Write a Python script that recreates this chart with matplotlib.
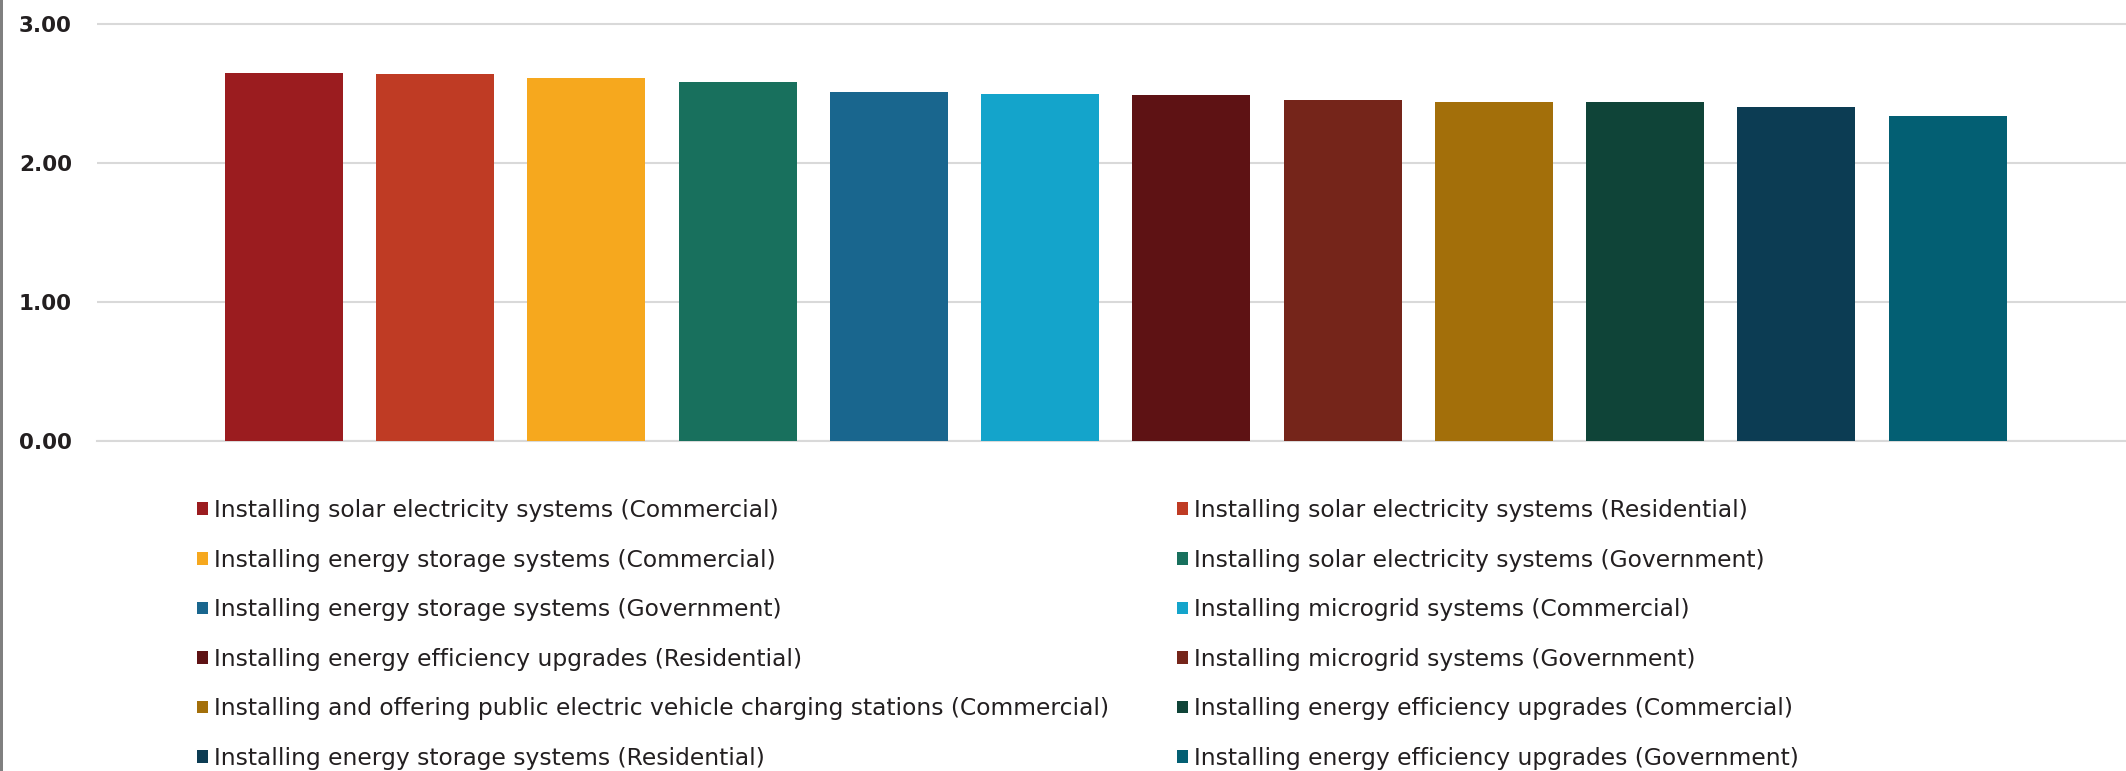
import numpy as np
import matplotlib.pyplot as plt
from matplotlib.patches import Patch, Rectangle

# Дані
labels = [
    "Installing solar electricity systems (Commercial)",
    "Installing solar electricity systems (Residential)",
    "Installing energy storage systems (Commercial)",
    "Installing solar electricity systems (Government)",
    "Installing energy storage systems (Government)",
    "Installing microgrid systems (Commercial)",
    "Installing energy efficiency upgrades (Residential)",
    "Installing microgrid systems (Government)",
    "Installing and offering public electric vehicle charging stations (Commercial)",
    "Installing energy efficiency upgrades (Commercial)",
    "Installing energy storage systems (Residential)",
    "Installing energy efficiency upgrades (Government)",
]
values = [2.65, 2.64, 2.61, 2.58, 2.51, 2.50, 2.49, 2.45, 2.44, 2.44, 2.40, 2.34]
colors = ["#9b1c1f", "#bf3b24", "#f6a81e", "#18705d", "#19668e", "#14a4cb",
          "#5e1214", "#75251a", "#a36f0a", "#0f4438", "#0c3c53", "#035f73"]
yticks = [0, 1, 2, 3]

text_color = "#231f20"
grid_color = "#d9d9d9"

fig = plt.figure(figsize=(21.26, 7.71), dpi=100)
ax = fig.add_axes([97 / 2126, 1 - 441 / 771, 1 - 97 / 2126, (3.05 * 139) / 771])

x = np.arange(len(values))
ax.bar(x, values, width=0.78, color=colors, zorder=3)

ax.set_xlim(-1.236, 12.18)
ax.set_ylim(0, 3.05)
ax.set_yticks(yticks)
ax.set_yticklabels([f"{v:.2f}" for v in yticks], fontfamily="DejaVu Sans",
                   fontweight="bold", fontsize=15.5, color=text_color)
ax.tick_params(axis="y", length=0, pad=18)
ax.set_xticks([])
ax.grid(axis="y", color=grid_color, linewidth=1.5, zorder=0)
for side in ["top", "right", "left"]:
    ax.spines[side].set_visible(False)
ax.spines["bottom"].set_color(grid_color)
ax.spines["bottom"].set_linewidth(1.5)

# Легенда у два стовпці (по рядках)
handles = [Patch(facecolor=c, edgecolor="none") for c in colors]
leg_kw = dict(loc="upper left", frameon=False, borderpad=0, borderaxespad=0,
              handlelength=0.45, handleheight=0.45, handletextpad=0.3,
              labelspacing=1.14, bbox_transform=fig.transFigure,
              prop={"family": "DejaVu Sans", "size": 16.8})
leg1 = fig.legend(handles[0::2], labels[0::2], bbox_to_anchor=(197 / 2126, 1 - 499 / 771), **leg_kw)
leg2 = fig.legend(handles[1::2], labels[1::2], bbox_to_anchor=(1177 / 2126, 1 - 499 / 771), **leg_kw)
for leg in (leg1, leg2):
    for t in leg.get_texts():
        t.set_color(text_color)

# Сіра рамка зліва
fig.add_artist(Rectangle((0, 0), 3 / 2126, 1, transform=fig.transFigure,
                         facecolor="#808080", edgecolor="none"))

fig.savefig("out.png", dpi=100)
